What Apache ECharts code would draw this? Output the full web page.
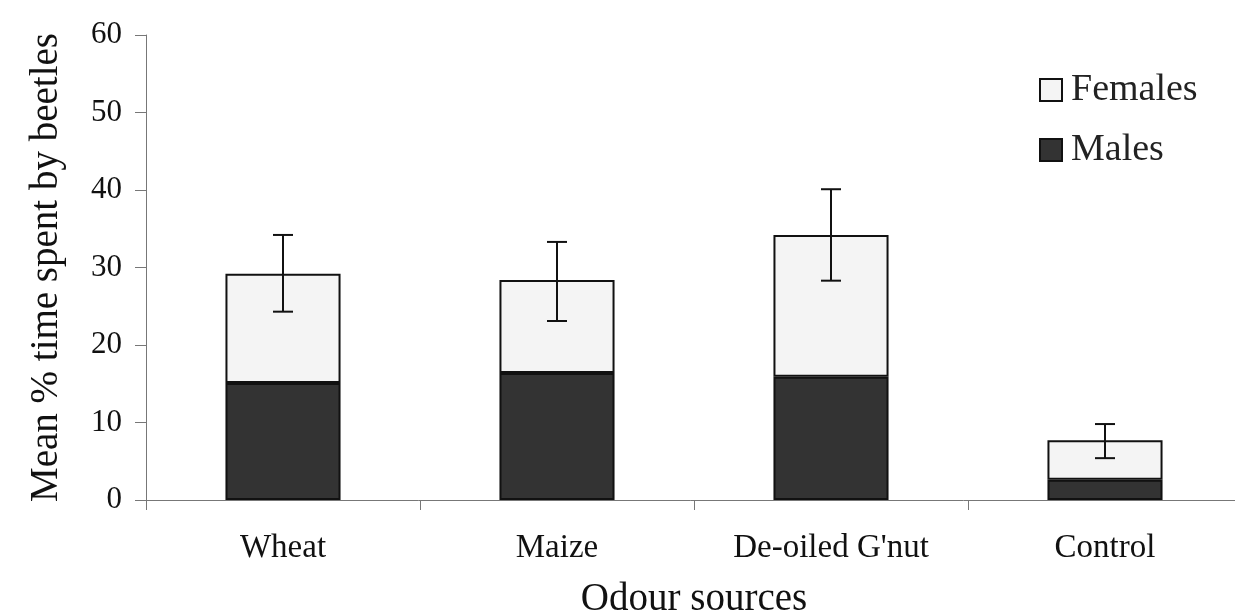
<!DOCTYPE html>
<html>
<head>
<meta charset="utf-8">
<script src="https://cdn.jsdelivr.net/npm/echarts@6/dist/echarts.min.js"></script>
<style>
  html, body { margin: 0; padding: 0; background: #fff; }
  #chart { width: 1235px; height: 614px; }
</style>
</head>
<body>
<div id="chart"></div>
<script>
// Data
const categories = ['Wheat', 'Maize', "De-oiled G'nut", 'Control'];
const males = [15.1, 16.4, 15.9, 2.6];
const females = [14.1, 12.0, 18.3, 5.1];
const errLow = [24.3, 23.1, 28.3, 5.4];
const errHigh = [34.2, 33.3, 40.1, 9.8];

const font = 'Liberation Serif, Times New Roman, serif';

const chart = echarts.init(document.getElementById('chart'));

const option = {
  backgroundColor: '#fff',
  animation: false,
  grid: { left: 146, top: 35, bottom: 114, width: 1096, containLabel: false, outerBoundsMode: 'none' },
  legend: {
    data: ['Females', 'Males'],
    orient: 'vertical',
    left: 1034,
    top: 66,
    itemWidth: 22,
    itemHeight: 22,
    itemGap: 22,
    icon: 'rect',
    textStyle: { fontFamily: font, fontSize: 38, color: '#222', padding: [0, 0, 0, 4] }
  },
  xAxis: {
    type: 'category',
    data: categories,
    name: 'Odour sources',
    nameLocation: 'middle',
    nameGap: 80,
    nameTextStyle: { fontFamily: font, fontSize: 39, color: '#111' },
    axisLine: { lineStyle: { color: '#777', width: 1 } },
    axisTick: { show: true, length: 10, lineStyle: { color: '#777' } },
    axisLabel: { fontFamily: font, fontSize: 33, color: '#111', margin: 32 }
  },
  yAxis: {
    type: 'value',
    min: 0,
    max: 60,
    interval: 10,
    name: 'Mean % time spent by beetles',
    nameLocation: 'middle',
    nameGap: 80,
    nameTextStyle: { fontFamily: font, fontSize: 39, color: '#111' },
    axisLine: { show: true, lineStyle: { color: '#777', width: 1 } },
    axisTick: { show: true, length: 11, lineStyle: { color: '#777' } },
    axisLabel: { fontFamily: font, fontSize: 31, color: '#111', margin: 24 },
    splitLine: { show: false }
  },
  series: [
    {
      name: 'Males',
      type: 'bar',
      stack: 'total',
      barWidth: '42%',
      data: males,
      itemStyle: { color: '#333', borderColor: '#111', borderWidth: 2 }
    },
    {
      name: 'Females',
      type: 'bar',
      stack: 'total',
      barWidth: '42%',
      data: females,
      itemStyle: { color: '#f4f4f4', borderColor: '#111', borderWidth: 2 }
    },
    {
      name: 'SE',
      type: 'custom',
      data: categories.map((c, i) => [i, errLow[i], errHigh[i]]),
      z: 10,
      renderItem: function (params, api) {
        const lo = api.coord([api.value(0), api.value(1)]);
        const hi = api.coord([api.value(0), api.value(2)]);
        const half = 10;
        const style = { stroke: '#111', lineWidth: 2 };
        return {
          type: 'group',
          children: [
            { type: 'line', shape: { x1: lo[0], y1: lo[1], x2: hi[0], y2: hi[1] }, style: style },
            { type: 'line', shape: { x1: lo[0] - half, y1: lo[1], x2: lo[0] + half, y2: lo[1] }, style: style },
            { type: 'line', shape: { x1: hi[0] - half, y1: hi[1], x2: hi[0] + half, y2: hi[1] }, style: style }
          ]
        };
      }
    }
  ]
};

chart.setOption(option);
</script>
</body>
</html>
